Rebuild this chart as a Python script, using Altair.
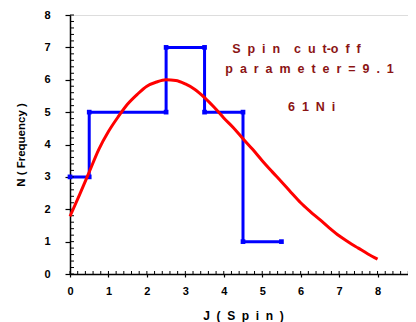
import altair as alt
import pandas as pd

# Histogram (step outline) vertices
step_j = [0, 0.5, 0.5, 2.5, 2.5, 3.5, 3.5, 4.5, 4.5, 5.5]
step_n = [3, 3, 5, 5, 7, 7, 5, 5, 1, 1]

# Fitted curve
curve_j = [0, 0.25, 0.5, 0.75, 1, 1.25, 1.5, 1.75, 2, 2.25, 2.5, 2.75, 3, 3.25,
           3.5, 3.75, 4, 4.25, 4.5, 4.75, 5, 5.25, 5.5, 5.75, 6, 6.25, 6.5,
           6.75, 7, 7.25, 7.5, 7.75, 8]
curve_n = [1.78, 2.45, 3.15, 3.85, 4.4, 4.85, 5.25, 5.55, 5.8, 5.93, 6.0, 5.98,
           5.87, 5.7, 5.45, 5.15, 4.82, 4.52, 4.18, 3.85, 3.5, 3.17, 2.85, 2.52,
           2.2, 1.93, 1.68, 1.42, 1.18, 0.98, 0.8, 0.62, 0.46]

G = "\u00a0\u00a0"  # letter gap
# Annotations
ann_text = [G.join("Spin") + G + G + G.join("cu") + G + "t-o" + G + G.join("ff"),
            G.join("parameter=9.1"),
            G.join("61Ni")]
ann_j = [4.22, 4.04, 5.67]
ann_n = [6.94, 6.33, 5.15]

x_ticks = [0, 1, 2, 3, 4, 5, 6, 7, 8, 9]
y_ticks = [0, 1, 2, 3, 4, 5, 6, 7, 8]
x_minor = [i / 5 for i in range(0, 46)]
y_minor = [i / 5 for i in range(0, 41)]

W, H = 346, 259
FONT = "Liberation Sans"

xs = alt.Scale(domain=[0, 9], nice=False, zero=False)
ys = alt.Scale(domain=[0, 8], nice=False, zero=False)

step_df = pd.DataFrame({"J": step_j, "N": step_n, "o": list(range(len(step_j)))})
curve_df = pd.DataFrame({"J": curve_j, "N": curve_n})
ann_df = pd.DataFrame({"J": ann_j, "N": ann_n, "t": ann_text})
xm_df = pd.DataFrame({"J": x_minor})
ym_df = pd.DataFrame({"N": y_minor})

xaxis = alt.Axis(values=x_ticks, format="d", title="J" + G + "(" + G + G.join("Spin") + G + ")",
                 domainColor="black", domainWidth=1.5, tickColor="black", tickWidth=1.2,
                 tickSize=3, labelPadding=8, labelFont=FONT, labelFontSize=11,
                 labelFontWeight="bold", labelColor="black", grid=False,
                 labelOverlap=False, labelFlush=False, tickCount=10,
                 titleFont=FONT, titleFontSize=12, titleFontWeight="bold",
                 titleColor="black", titleY=41, titleBaseline="middle")
yaxis = alt.Axis(values=y_ticks, format="d", title="N ( Frequency )",
                 domainColor="black", domainWidth=1.5, tickColor="black", tickWidth=1.2,
                 tickSize=5, labelPadding=15, labelFont=FONT, labelFontSize=11,
                 labelFontWeight="bold", labelColor="black", grid=False,
                 labelOverlap=False, labelFlush=False, tickCount=9,
                 titleFont=FONT, titleFontSize=11.5, titleFontWeight="bold",
                 titleColor="black", titleX=-49, titleBaseline="middle")


def X():
    return alt.X("J:Q", scale=xs, axis=xaxis)


def Y():
    return alt.Y("N:Q", scale=ys, axis=yaxis)


xminor = alt.Chart(xm_df).mark_rule(color="black", strokeWidth=1).encode(
    x=X(), y=alt.value(H), y2=alt.value(H - 3))
yminor = alt.Chart(ym_df).mark_rule(color="black", strokeWidth=1).encode(
    y=Y(), x=alt.value(0), x2=alt.value(4))

blue_line = alt.Chart(step_df).mark_line(color="#0000FF", strokeWidth=3).encode(
    x=X(), y=Y(), order="o:Q")
blue_pts = alt.Chart(step_df).mark_square(color="#0000FF", size=22, opacity=1).encode(
    x=X(), y=Y())
red_line = alt.Chart(curve_df).mark_line(color="#FF0000", strokeWidth=3,
                                         interpolate="monotone").encode(
    x=X(), y=Y())
ann = alt.Chart(ann_df).mark_text(align="left", baseline="middle", font=FONT,
                                  fontSize=12.5, fontWeight="bold",
                                  color="#8B1414").encode(
    x=X(), y=Y(), text="t:N")

chart = alt.layer(blue_line, xminor, yminor, blue_pts, red_line, ann).properties(
    width=W, height=H,
    padding={"left": 62, "top": 7, "right": -8, "bottom": 48},
    autosize=alt.AutoSizeParams(type="none"),
).configure_view(stroke="#999999", strokeWidth=1.2).configure(background="white")

chart.save("out.html", embed_options={"renderer": "svg", "actions": False})
